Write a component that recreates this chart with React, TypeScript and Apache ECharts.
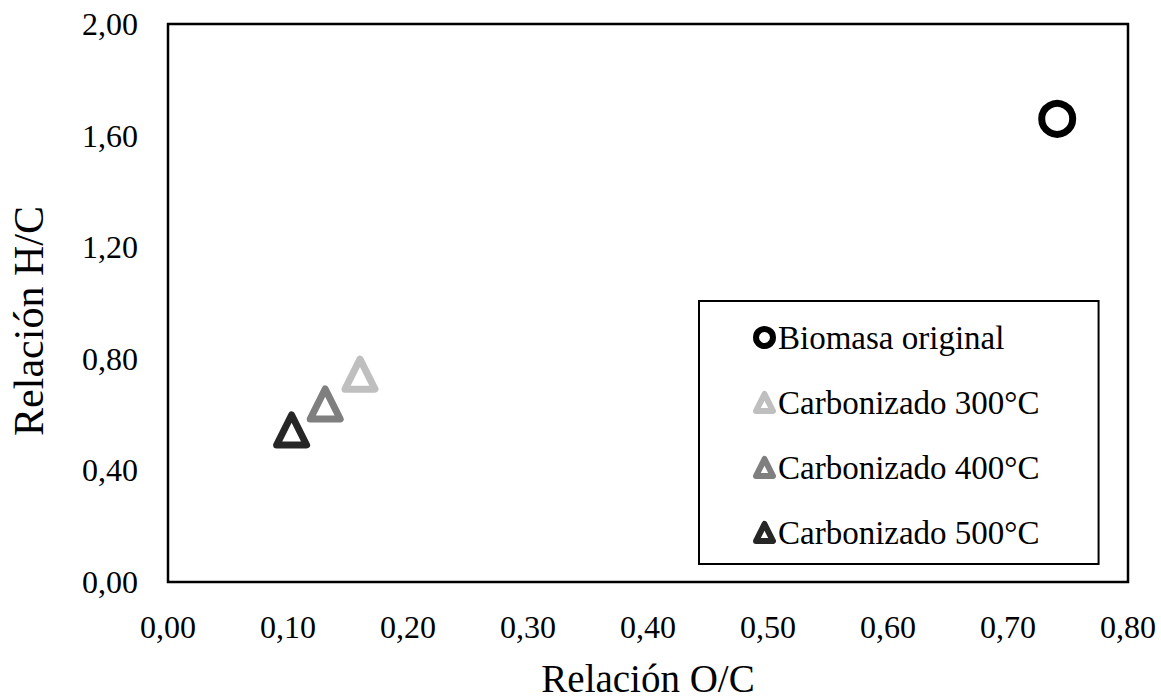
import React, { useEffect, useRef } from "react";
import * as echarts from "echarts";

const seriesNames = ["Biomasa original", "Carbonizado 300°C", "Carbonizado 400°C", "Carbonizado 500°C"];
const ocValues = [0.741, 0.16, 0.131, 0.103];
const hcValues = [1.66, 0.745, 0.638, 0.545];
const seriesColors = ["#000000", "#bfbfbf", "#7f7f7f", "#262626"];
const seriesSymbols = ["circle", "triangle", "triangle", "triangle"];
const xTitle = "Relación O/C";
const yTitle = "Relación H/C";

const FONT = "'Liberation Serif', 'Times New Roman', serif";

export default function App() {
  const ref = useRef<HTMLDivElement>(null);
  useEffect(() => {
    if (!ref.current) return;
    const chart = echarts.init(ref.current, undefined, { renderer: "svg" });
    const fmt = (v: number) => v.toFixed(2).replace(".", ",");
    chart.setOption({
      animation: false,
      backgroundColor: "#ffffff",
      grid: {
        left: 168,
        right: 33,
        top: 24,
        bottom: 116,
        containLabel: false,
        outerBoundsMode: "none",
        show: true,
        borderColor: "#000000",
        borderWidth: 2.5,
        backgroundColor: "transparent",
      },
      xAxis: {
        type: "value",
        min: 0,
        max: 0.8,
        interval: 0.1,
        axisLine: { show: false },
        axisTick: { show: false },
        splitLine: { show: false },
        axisLabel: {
          formatter: fmt,
          fontFamily: FONT,
          fontSize: 32,
          color: "#000000",
          margin: 29,
        },
        name: xTitle,
        nameLocation: "middle",
        nameGap: 81,
        nameTextStyle: { fontFamily: FONT, fontSize: 39, lineHeight: 30, color: "#000000" },
      },
      yAxis: {
        type: "value",
        min: 0,
        max: 2,
        interval: 0.4,
        axisLine: { show: false },
        axisTick: { show: false },
        splitLine: { show: false },
        axisLabel: {
          formatter: fmt,
          fontFamily: FONT,
          fontSize: 32,
          color: "#000000",
          margin: 30,
        },
      },
      graphic: [
        {
          type: "text",
          x: 29,
          y: 321,
          rotation: Math.PI / 2,
          style: {
            text: yTitle,
            font: `42px ${FONT}`,
            fill: "#000000",
            textAlign: "center",
            textVerticalAlign: "middle",
          },
        },
      ],
      legend: {
        orient: "vertical",
        left: 699,
        top: 301,
        itemWidth: 17,
        itemHeight: 17,
        itemGap: 32,
        padding: [20, 59, 15, 54],
        borderColor: "#000000",
        borderWidth: 2,
        backgroundColor: "#ffffff",
        itemStyle: { borderWidth: 6 },
        textStyle: { fontFamily: FONT, fontSize: 33, color: "#000000", lineHeight: 33 },
        data: seriesNames,
      },
      series: seriesNames.map((name, i) => ({
        name,
        type: "scatter",
        symbol: seriesSymbols[i],
        symbolSize: seriesSymbols[i] === "circle" ? 31 : 30,
        itemStyle: {
          color: "#ffffff",
          borderColor: seriesColors[i],
          borderWidth: 7,
          borderJoin: "round",
          opacity: 1,
        },
        data: [[ocValues[i], hcValues[i]]],
      })),
    });
    return () => chart.dispose();
  }, []);
  return <div ref={ref} style={{ width: 1161, height: 698, position: "absolute", left: 0, top: 0 }} />;
}
